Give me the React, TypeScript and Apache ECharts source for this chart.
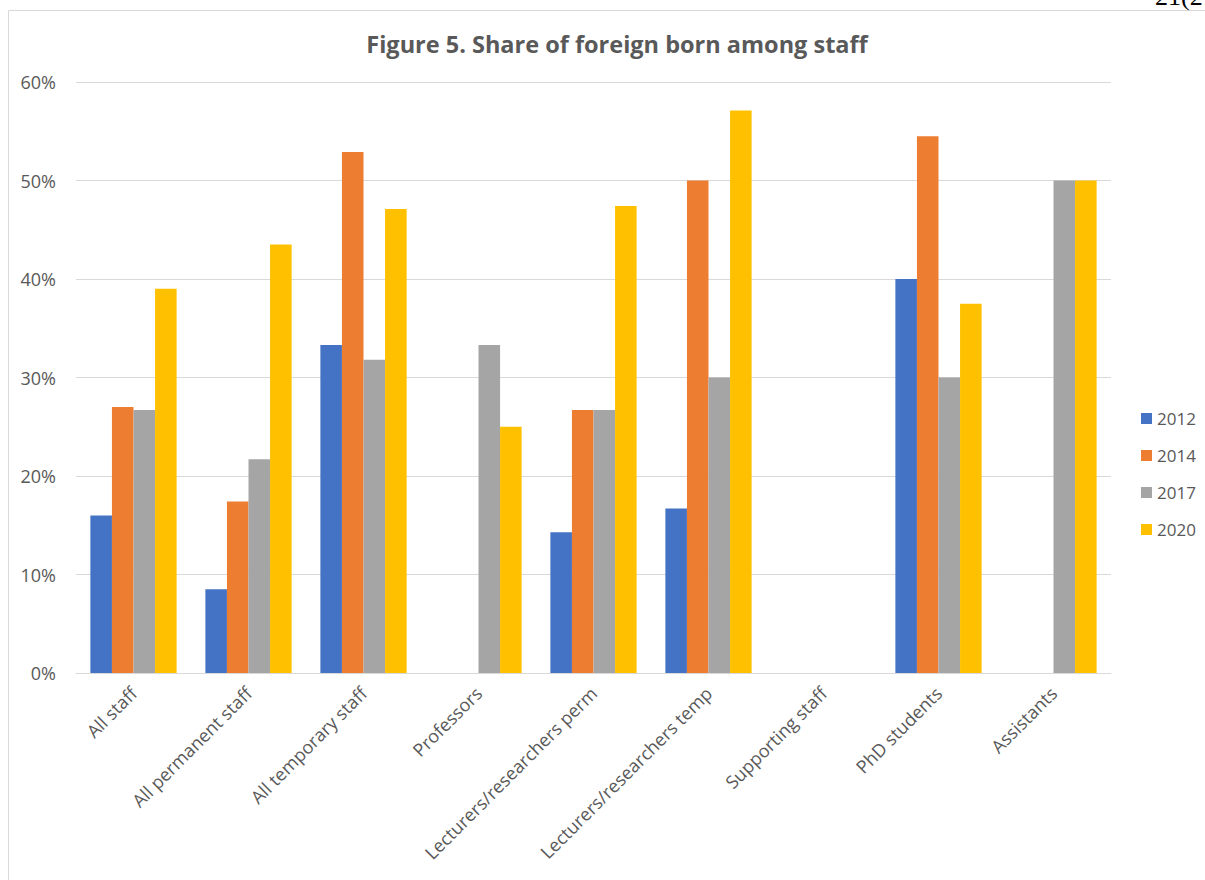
import React, { useEffect, useRef } from "react";
import * as echarts from "echarts";

const categories = [
  "All staff",
  "All permanent staff",
  "All temporary staff",
  "Professors",
  "Lecturers/researchers perm",
  "Lecturers/researchers temp",
  "Supporting staff",
  "PhD students",
  "Assistants",
];
const years = ["2012", "2014", "2017", "2020"];
const v2012 = [0.16, 0.085, 0.333, null, 0.143, 0.167, null, 0.4, null];
const v2014 = [0.27, 0.174, 0.529, null, 0.267, 0.5, null, 0.545, null];
const v2017 = [0.267, 0.217, 0.318, 0.333, 0.267, 0.3, null, 0.3, 0.5];
const v2020 = [0.39, 0.435, 0.471, 0.25, 0.474, 0.571, null, 0.375, 0.5];
const colors = ["#4472C4", "#ED7D31", "#A5A5A5", "#FFC000"];
const yTicks = [0, 0.1, 0.2, 0.3, 0.4, 0.5, 0.6];

const FONT = "'Open Sans', Lato, sans-serif";

export default function App() {
  const ref = useRef<HTMLDivElement>(null);
  useEffect(() => {
    if (!ref.current) return;
    const chart = echarts.init(ref.current, null, { renderer: "svg" });
    const values = [v2012, v2014, v2017, v2020];
    chart.setOption({
      animation: false,
      backgroundColor: "#ffffff",
      textStyle: { fontFamily: FONT },
      title: {
        text: "Figure 5. Share of foreign born among staff",
        left: 612,
        textAlign: "center",
        top: 27,
        textStyle: {
          fontFamily: FONT,
          fontSize: 23.5,
          fontWeight: "bold",
          color: "#595959",
        },
      },
      legend: {
        orient: "vertical",
        left: 1136,
        top: 405,
        itemWidth: 11,
        itemHeight: 11,
        itemGap: 20,
        icon: "rect",
        data: years,
        textStyle: { fontFamily: FONT, fontSize: 17, color: "#595959" },
      },
      grid: { left: 76, right: 94, top: 82, bottom: 207, containLabel: false },
      xAxis: {
        type: "category",
        data: categories,
        axisLine: { lineStyle: { color: "#d9d9d9", width: 1 } },
        axisTick: { show: false },
        axisLabel: {
          rotate: 45,
          interval: 0,
          fontFamily: FONT,
          fontSize: 18,
          color: "#595959",
          margin: 17,
        },
      },
      yAxis: {
        type: "value",
        min: 0,
        max: 0.6,
        interval: 0.1,
        axisLine: { show: false },
        axisTick: { show: false },
        splitLine: { lineStyle: { color: "#d9d9d9", width: 1 } },
        axisLabel: {
          fontFamily: FONT,
          fontSize: 18,
          color: "#595959",
          margin: 20,
          formatter: (v: number) => {
            const t = yTicks.find((x) => Math.abs(x - v) < 1e-9);
            return Math.round((t ?? v) * 100) + "%";
          },
        },
      },
      series: years.map((y, i) => ({
        name: y,
        type: "bar",
        data: values[i],
        barGap: "0%",
        barCategoryGap: "25%",
        itemStyle: { color: colors[i] },
      })),
      graphic: [
        {
          type: "rect",
          shape: { x: 8.5, y: 10.5, width: 1400, height: 1000 },
          style: { fill: "none", stroke: "#d9d9d9", lineWidth: 1 },
          silent: true,
        },
        {
          type: "text",
          x: 1155,
          y: -17,
          style: {
            text: "21(21",
            font: "26px 'Liberation Serif', 'DejaVu Serif', serif",
            fill: "#000000",
          },
          silent: true,
        },
      ],
    });
    return () => chart.dispose();
  }, []);
  return (
    <div
      ref={ref}
      style={{ position: "fixed", left: 0, top: 0, width: 1205, height: 880 }}
    />
  );
}
